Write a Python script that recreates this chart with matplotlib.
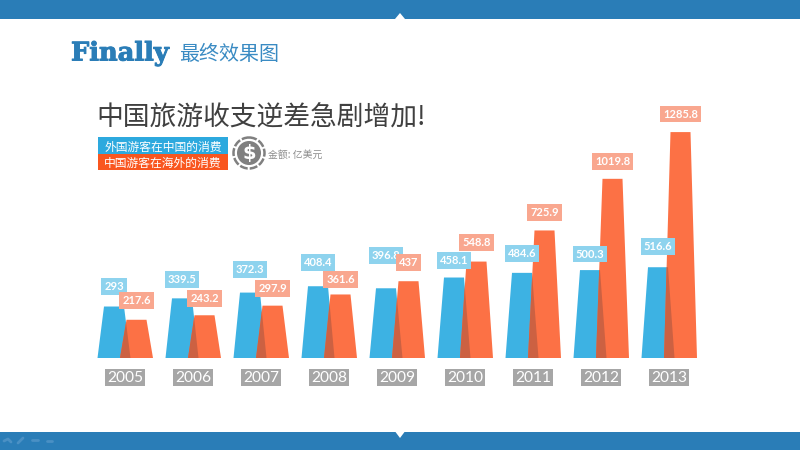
import matplotlib
matplotlib.use('Agg')
import matplotlib.pyplot as plt
import matplotlib.patheffects as pe
from matplotlib.patches import Rectangle, Polygon, Circle

years = ['2005','2006','2007','2008','2009','2010','2011','2012','2013']
inbound = [293, 339.5, 372.3, 408.4, 396.8, 458.1, 484.6, 500.3, 516.6]
outbound = [217.6, 243.2, 297.9, 361.6, 437, 548.8, 725.9, 1019.8, 1285.8]
inbound_lift = [20, 19, 23, 24, 33, 17, 19, 16, 21]
outbound_lift = [19, 17, 17, 15, 19, 19, 18, 17, 18]

title = '中国旅游收支逆差急剧增加!'
heading = '最终效果图'
legend_labels = ['外国游客在中国的消费', '中国游客在海外的消费']
unit = '金额: 亿美元'

BLUE, ORANGE, DARK = '#3DB2E3', '#FC7145', '#CC6142'
L_BLUE, L_ORANGE = '#8ED3EE', '#F9A78F'
BAND = '#2A7DB7'
CJK = ['Noto Sans CJK SC', 'DejaVu Sans']

fig = plt.figure(figsize=(8, 4.5), dpi=100, facecolor='white')

# pixel-space layer for the slide furniture
bg = fig.add_axes([0, 0, 1, 1])
bg.set_xlim(0, 800); bg.set_ylim(450, 0); bg.axis('off')
bg.add_patch(Rectangle((0, 0), 800, 19, color=BAND, lw=0))
bg.add_patch(Rectangle((0, 432), 800, 18, color=BAND, lw=0))
bg.add_patch(Polygon([(395, 19), (400, 13), (405, 19)], color='white', lw=0))
bg.add_patch(Polygon([(395.5, 432), (400, 438), (404.5, 432)], color='white', lw=0))
for xs, ys in [((4, 8, 11), (441, 439, 442)), ((18, 23), (443, 438)),
               ((32, 38), (440, 440)), ((47, 52), (441, 441))]:
    bg.plot(xs, ys, color='#4A90C4', lw=2, solid_capstyle='round')

t = bg.text(71, 53, 'Finally', family='DejaVu Serif', weight='bold', fontsize=18.5,
            color=BAND, va='center', ha='left')
t.set_path_effects([pe.withStroke(linewidth=0.7, foreground=BAND)])
bg.text(179, 55, heading, family=CJK, fontsize=14.4, color='#3A8BC3', va='center', ha='left')
bg.text(96, 118, title, family=CJK, fontsize=19.3, color='#404040', va='center', ha='left')

bg.add_patch(Rectangle((98, 137), 130, 17, color='#2DA9DE', lw=0))
bg.add_patch(Rectangle((98, 154), 130, 16, color='#F9561F', lw=0))
bg.text(163, 147, legend_labels[0], family=CJK, fontsize=8.5, color='white', ha='center', va='center')
bg.text(163, 163.5, legend_labels[1], family=CJK, fontsize=8.5, color='white', ha='center', va='center')

bg.add_patch(Circle((249, 153), 15.5, fill=False, ec='#808080', lw=1.8, ls=(0, (3.2, 0.8))))
bg.add_patch(Circle((249, 153), 12, color='#808080', lw=0))
bg.text(249, 153, '$', family='DejaVu Sans', weight='bold', fontsize=14, color='white', ha='center', va='center')
bg.text(267.5, 155, unit, family=CJK, fontsize=7.1, color='#8C8C8C', ha='left', va='center')

# chart layer: x = category index, y = value
BASE_PX, PX_PER_UNIT = 358, 0.1757
Y_MAX = 1400
STEP = 68
ax = fig.add_axes([91 / 800, (450 - BASE_PX) / 450, 612 / 800, Y_MAX * PX_PER_UNIT / 450])
ax.patch.set_alpha(0)
ax.set_xlim(-0.5, 8.5); ax.set_ylim(0, Y_MAX)
for s in ax.spines.values():
    s.set_visible(False)
ax.set_yticks([])
ax.set_xticks(range(len(years)))
ax.set_xticklabels(years, family='Lato', fontsize=11.2, color='white',
                   bbox=dict(boxstyle='square,pad=0.1', fc='#A6A6A6', ec='none'))
ax.tick_params(axis='x', length=0, pad=9)

OFF_B, OFF_O = -11 / STEP, 11.5 / STEP
HB, HT = 16.5 / STEP, 10 / STEP

def trapezoid(centre, value):
    return [(centre - HB, 0), (centre - HT, value), (centre + HT, value), (centre + HB, 0)]

for i, (a, b) in enumerate(zip(inbound, outbound)):
    ax.add_patch(Polygon(trapezoid(i + OFF_B, a), color=BLUE, lw=0, zorder=2))
    orange = Polygon(trapezoid(i + OFF_O, b), color=ORANGE, lw=0, zorder=3)
    ax.add_patch(orange)
    overlap = Polygon(trapezoid(i + OFF_B, a), color=DARK, lw=0, zorder=4)
    ax.add_patch(overlap)
    overlap.set_clip_path(orange)
    for x, v, lift, c, z in [(i + OFF_B, a, inbound_lift[i], L_BLUE, 5),
                             (i + OFF_O, b, outbound_lift[i], L_ORANGE, 6)]:
        ax.annotate(f'{v:g}', (x, v), xytext=(0, lift * 0.72), textcoords='offset points',
                    ha='center', va='center', family='Lato', weight='bold', fontsize=8,
                    color='white', zorder=z, annotation_clip=False,
                    bbox=dict(boxstyle='square,pad=0.26', fc=c, ec='none'))

fig.savefig('out.png', dpi=100)
